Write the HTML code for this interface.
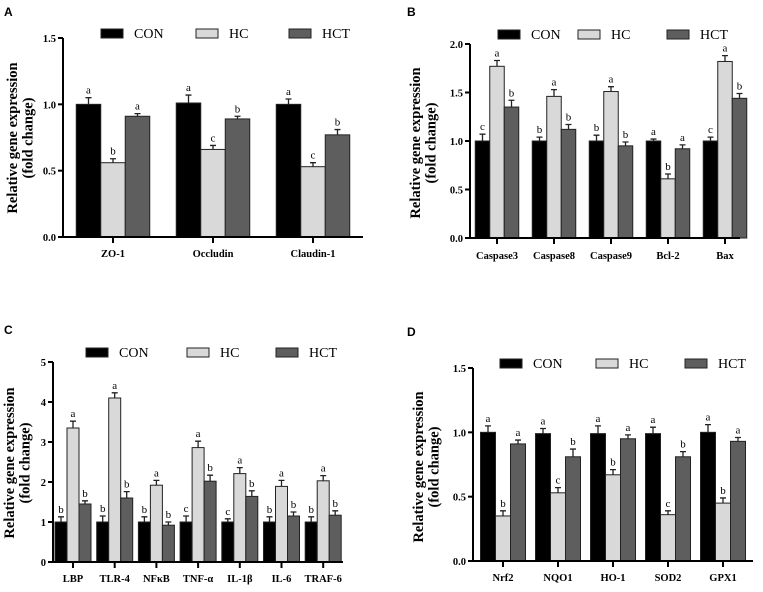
<!DOCTYPE html>
<html><head><meta charset="utf-8"><style>
body{margin:0;background:#fff}
svg text{font-family:"Liberation Serif",serif}
</style></head><body>
<svg id="c" width="763" height="587" xmlns="http://www.w3.org/2000/svg"></svg>
<script>
const seriesNames=["CON","HC","HCT"];
const catsA=["ZO-1","Occludin","Claudin-1"];
const conA=[1.0,1.01,1.0], conAe=[0.05,0.06,0.04];
const hcA=[0.56,0.66,0.53], hcAe=[0.03,0.03,0.03];
const hctA=[0.91,0.89,0.77], hctAe=[0.02,0.02,0.04];
const letA=[["a","a","a"],["b","c","c"],["a","b","b"]];
const ticksA=["0.0","0.5","1.0","1.5"];
const catsB=["Caspase3","Caspase8","Caspase9","Bcl-2","Bax"];
const conB=[1,1,1,1,1], conBe=[0.07,0.04,0.06,0.02,0.04];
const hcB=[1.77,1.46,1.51,0.61,1.82], hcBe=[0.06,0.07,0.05,0.05,0.06];
const hctB=[1.35,1.12,0.95,0.92,1.44], hctBe=[0.07,0.05,0.04,0.04,0.05];
const letB=[["c","b","b","a","c"],["a","a","a","b","a"],["b","b","b","a","b"]];
const ticksB=["0.0","0.5","1.0","1.5","2.0"];
const catsC=["LBP","TLR-4","NFκB","TNF-α","IL-1β","IL-6","TRAF-6"];
const conC=[1,1,1,1,1,1,1], conCe=[0.13,0.15,0.13,0.15,0.08,0.13,0.13];
const hcC=[3.35,4.1,1.92,2.86,2.21,1.89,2.03], hcCe=[0.17,0.13,0.12,0.16,0.15,0.15,0.13];
const hctC=[1.45,1.6,0.92,2.02,1.64,1.15,1.17], hctCe=[0.08,0.16,0.08,0.15,0.14,0.1,0.11];
const letC=[["b","b","b","c","c","b","b"],["a","a","a","a","a","a","a"],["b","b","b","b","b","b","b"]];
const ticksC=["0","1","2","3","4","5"];
const catsD=["Nrf2","NQO1","HO-1","SOD2","GPX1"];
const conD=[1,0.99,0.99,0.99,1.0], conDe=[0.05,0.04,0.06,0.05,0.06];
const hcD=[0.35,0.53,0.67,0.36,0.45], hcDe=[0.04,0.04,0.04,0.03,0.04];
const hctD=[0.91,0.81,0.95,0.81,0.93], hctDe=[0.03,0.06,0.03,0.04,0.03];
const letD=[["a","a","a","a","a"],["b","c","b","c","b"],["a","b","a","b","a"]];
const ticksD=["0.0","0.5","1.0","1.5"];

const svg=document.getElementById('c');
const NS="http://www.w3.org/2000/svg";
function mk(tag,attrs,parent,txt){const e=document.createElementNS(NS,tag);for(const k in attrs)e.setAttribute(k,attrs[k]);if(txt!==undefined)e.textContent=txt;(parent||svg).appendChild(e);return e;}
const fills=["#000","#d9d9d9","#5e5e5e"];
function panel(p){
  const g=mk('g',{});
  
  
  const t=mk('text',{x:p.lx,y:p.ly,'font-size':12,'font-weight':'bold',style:'font-family:"Liberation Sans",sans-serif'},g,p.id);
  
  const ymax=p.ymax;
  const y=v=>p.y0-(v/ymax)*(p.y0-p.ytop);
  const x=i=>p.c0+i*p.step;
  const vals=[p.con,p.hc,p.hct], errs=[p.cone,p.hce,p.hcte];
  for(let s=0;s<3;s++){for(let i=0;i<p.cats.length;i++){
    const bx=x(i)+(s-1.5)*p.bw, v=vals[s][i], e=errs[s][i];
    const r=mk('rect',{x:bx,y:y(v),width:p.bw,height:p.y0-y(v),fill:fills[s],stroke:'#222','stroke-width':1},g);
    
    const cx=bx+p.bw/2;
    const el=mk('path',{d:`M${cx} ${y(v)}V${y(v+e)}M${cx-3} ${y(v+e)}H${cx+3}`,stroke:'#222','stroke-width':1.3,fill:'none'},g);
    
    const lt=mk('text',{x:cx,y:y(v+e)-4,'font-size':11,'text-anchor':'middle'},g,p.lets[s][i]);
    
  }}
  const ax=mk('path',{d:`M${p.ax} ${p.ytop}V${p.y0}H${p.axEnd}`,stroke:'#000','stroke-width':2,fill:'none'},g);
  
  p.ticks.forEach((tk,k)=>{const v=k*ymax/(p.ticks.length-1);
    mk('path',{d:`M${p.ax-5} ${y(v)}H${p.ax}`,stroke:'#000','stroke-width':2},g);
    const tt=mk('text',{x:p.ax-7,y:y(v)+4,'font-size':10.5,'font-weight':'bold','text-anchor':'end'},g,tk);
    });
  p.cats.forEach((c,i)=>{mk('path',{d:`M${x(i)} ${p.y0}V${p.y0+6}`,stroke:'#000','stroke-width':2},g);
    const ct=mk('text',{x:x(i),y:p.labY,'font-size':10.5,'font-weight':'bold','text-anchor':'middle'},g,c);
    });
  const yt=mk('text',{transform:`translate(${p.tx},${p.ty}) rotate(-90)`,'font-size':14.5,'font-weight':'bold','text-anchor':'middle'},g);
  
  mk('tspan',{x:0,y:0},yt,'Relative gene expression');
  mk('tspan',{x:0,y:15.5},yt,'(fold change)');
  for(let s=0;s<3;s++){
    const le=mk('g',{},g);
    
    mk('rect',{x:p.leg[s],y:p.legY-4,width:22,height:9,fill:fills[s],stroke:'#222','stroke-width':1},le);
    mk('text',{x:p.leg[s]+33,y:p.legY+5,'font-size':14},le,seriesNames[s]);
  }
}
panel({id:"A",lx:4,ly:16,cats:catsA,con:conA,cone:conAe,hc:hcA,hce:hcAe,hct:hctA,hcte:hctAe,lets:letA,ticks:ticksA,ymax:1.5,
  ax:63,axEnd:363,ytop:38,y0:237,c0:113,step:100,bw:24.5,labY:257,tx:17,ty:138,leg:[101,196,289],legY:33});
panel({id:"B",lx:407,ly:16,cats:catsB,con:conB,cone:conBe,hc:hcB,hce:hcBe,hct:hctB,hcte:hctBe,lets:letB,ticks:ticksB,ymax:2.0,
  ax:470,axEnd:740,ytop:44,y0:238,c0:497,step:57,bw:14.5,labY:259,tx:420,ty:143,leg:[498,578,667],legY:34});
panel({id:"C",lx:4,ly:334,cats:catsC,con:conC,cone:conCe,hc:hcC,hce:hcCe,hct:hctC,hcte:hctCe,lets:letC,ticks:ticksC,ymax:5,
  ax:53,axEnd:343,ytop:362,y0:562,c0:73,step:41.7,bw:12,labY:582,tx:14,ty:463,leg:[86,187,276],legY:352});
panel({id:"D",lx:407,ly:336,cats:catsD,con:conD,cone:conDe,hc:hcD,hce:hcDe,hct:hctD,hcte:hctDe,lets:letD,ticks:ticksD,ymax:1.5,
  ax:473,axEnd:753,ytop:368,y0:561,c0:503,step:55,bw:15,labY:581,tx:423,ty:467,leg:[500,596,685],legY:363});
</script>
</body></html>
